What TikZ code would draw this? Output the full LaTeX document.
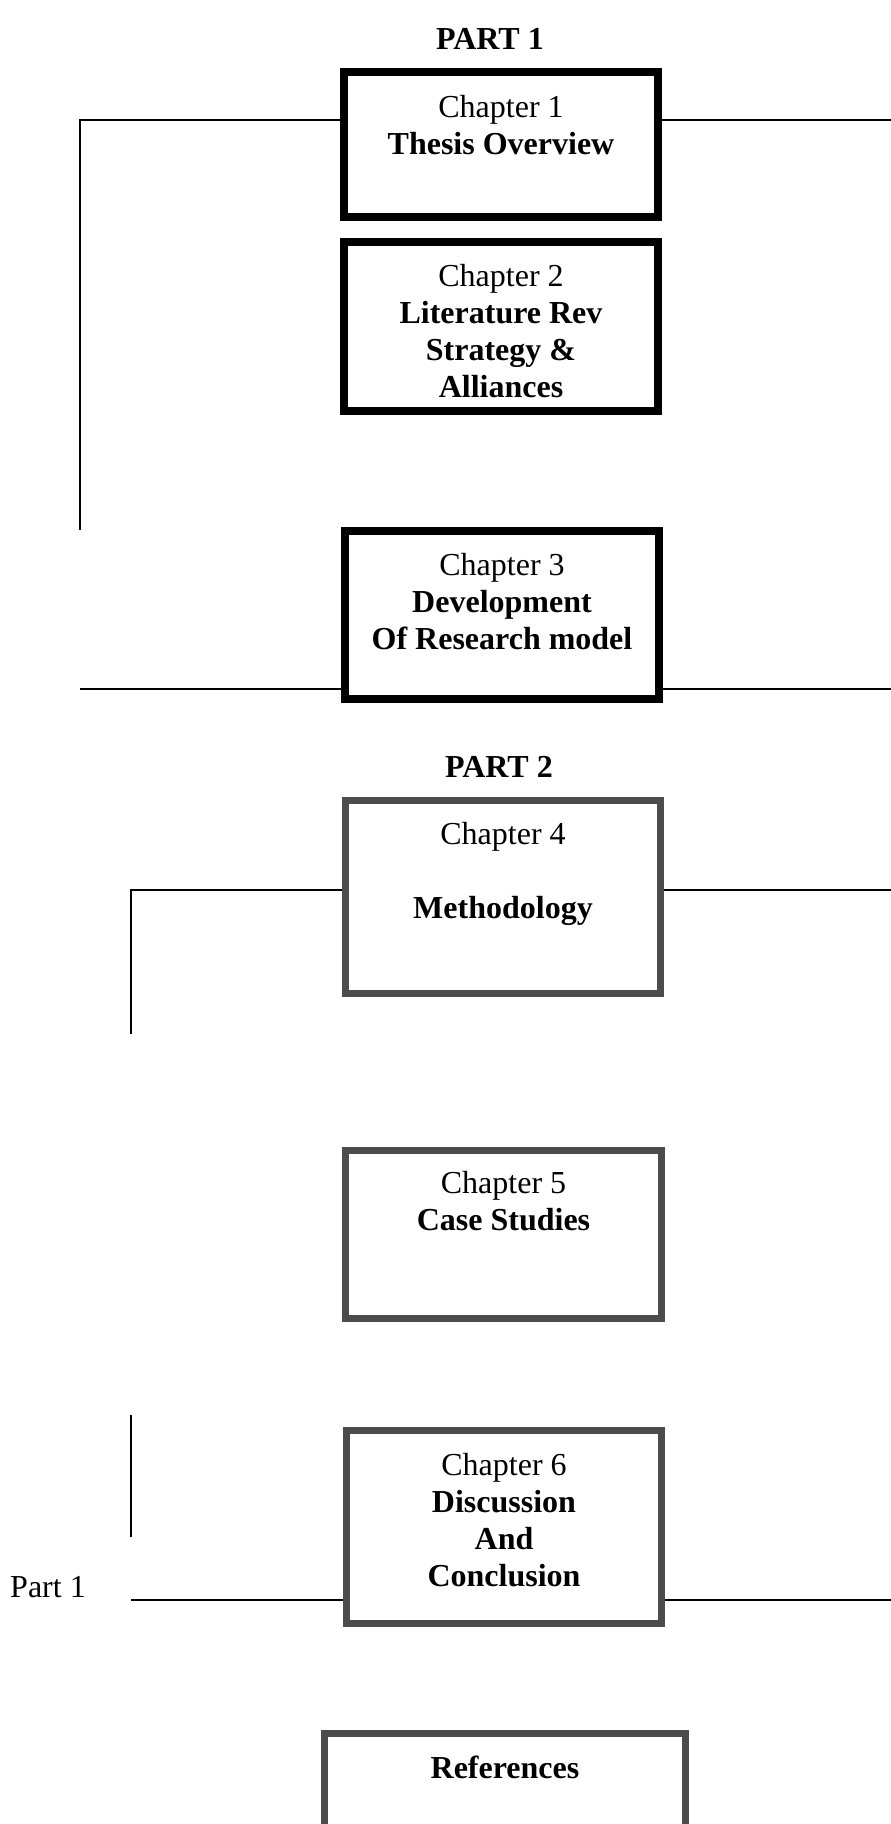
\documentclass[tikz,border=0pt]{standalone}
\usepackage{fontspec}
\setmainfont{Liberation Serif}
\usetikzlibrary{backgrounds}
\definecolor{framegrey}{rgb}{0.3,0.3,0.3}
\begin{document}
\begin{tikzpicture}[x=1pt,y=-1pt,
  txt/.style={font=\fontsize{32}{37}\selectfont, align=center, inner sep=0pt},
  chapbox/.style={draw=black, line width=8pt, fill=white, inner sep=0pt, rectangle},
  greybox/.style={draw=framegrey, line width=7pt, fill=white, inner sep=0pt, rectangle},
  conn/.style={draw=black, line width=2pt}]
\useasboundingbox (0,0) rectangle (891,1824);
\clip (0,0) rectangle (891,1824);

% part headings
\node[txt, font=\fontsize{32}{37}\selectfont\bfseries] (p1) at (490,39) {PART 1};
\node[txt, font=\fontsize{32}{37}\selectfont\bfseries] (p2) at (499,767) {PART 2};
\node[txt] (back) at (48,1587) {Part 1};

% chapter frames, part 1
\node[chapbox, minimum width=314pt, minimum height=145pt] (b1) at (501,144.5) {};
\node[chapbox, minimum width=314pt, minimum height=169pt] (b2) at (501,326.5) {};
\node[chapbox, minimum width=314pt, minimum height=168pt] (b3) at (502,615) {};
% chapter frames, part 2
\node[greybox, minimum width=315pt, minimum height=193pt] (b4) at (503,897) {};
\node[greybox, minimum width=316pt, minimum height=168pt] (b5) at (503.5,1234.5) {};
\node[greybox, minimum width=315pt, minimum height=193pt] (b6) at (504,1527) {};
\node[greybox, minimum width=361pt, minimum height=200pt] (refs) at (505,1833.5) {};

% chapter titles
\node[txt] (t1) at (501,125.5) {Chapter 1\\\textbf{Thesis Overview}};
\node[txt] (t2) at (501,331) {Chapter 2\\\textbf{Literature Rev}\\\textbf{Strategy \&}\\\textbf{Alliances}};
\node[txt] (t3) at (502,601.5) {Chapter 3\\\textbf{Development}\\\textbf{Of Research model}};
\node[txt] (t4) at (503,874) {Chapter 4\\[37pt]\textbf{Methodology}};
\node[txt] (t5) at (503.5,1201.5) {Chapter 5\\\textbf{Case Studies}};
\node[txt] (t6) at (504,1520) {Chapter 6\\\textbf{Discussion}\\\textbf{And}\\\textbf{Conclusion}};
\node[txt, font=\fontsize{32}{37}\selectfont\bfseries] (t7) at (505,1767) {References};

% free ends of the connectors
\coordinate (a1) at (80,120);
\coordinate (a2) at (80,530);
\coordinate (a3) at (891,120);
\coordinate (c1) at (80,689);
\coordinate (c2) at (891,689);
\coordinate (d1) at (131,890);
\coordinate (d2) at (131,1034);
\coordinate (d3) at (891,890);
\coordinate (e1) at (131,1415);
\coordinate (e2) at (131,1537);
\coordinate (f1) at (131,1600);
\coordinate (f2) at (891,1600);

\begin{scope}[on background layer]
  \draw[conn] (a2) -- (a1) -- (a1 -| b1.west);
  \draw[conn] (b1.east |- a3) -- (a3);
  \draw[conn, line width=2.6pt] (c1) -- (c1 -| b3.west);
  \draw[conn, line width=2.6pt] (b3.east |- c2) -- (c2);
  \draw[conn] (d2) -- (d1) -- (d1 -| b4.west);
  \draw[conn] (b4.east |- d3) -- (d3);
  \draw[conn] (e1) -- (e2);
  \draw[conn] (f1) -- (f1 -| b6.west);
  \draw[conn] (b6.east |- f2) -- (f2);
\end{scope}
\end{tikzpicture}
\end{document}
